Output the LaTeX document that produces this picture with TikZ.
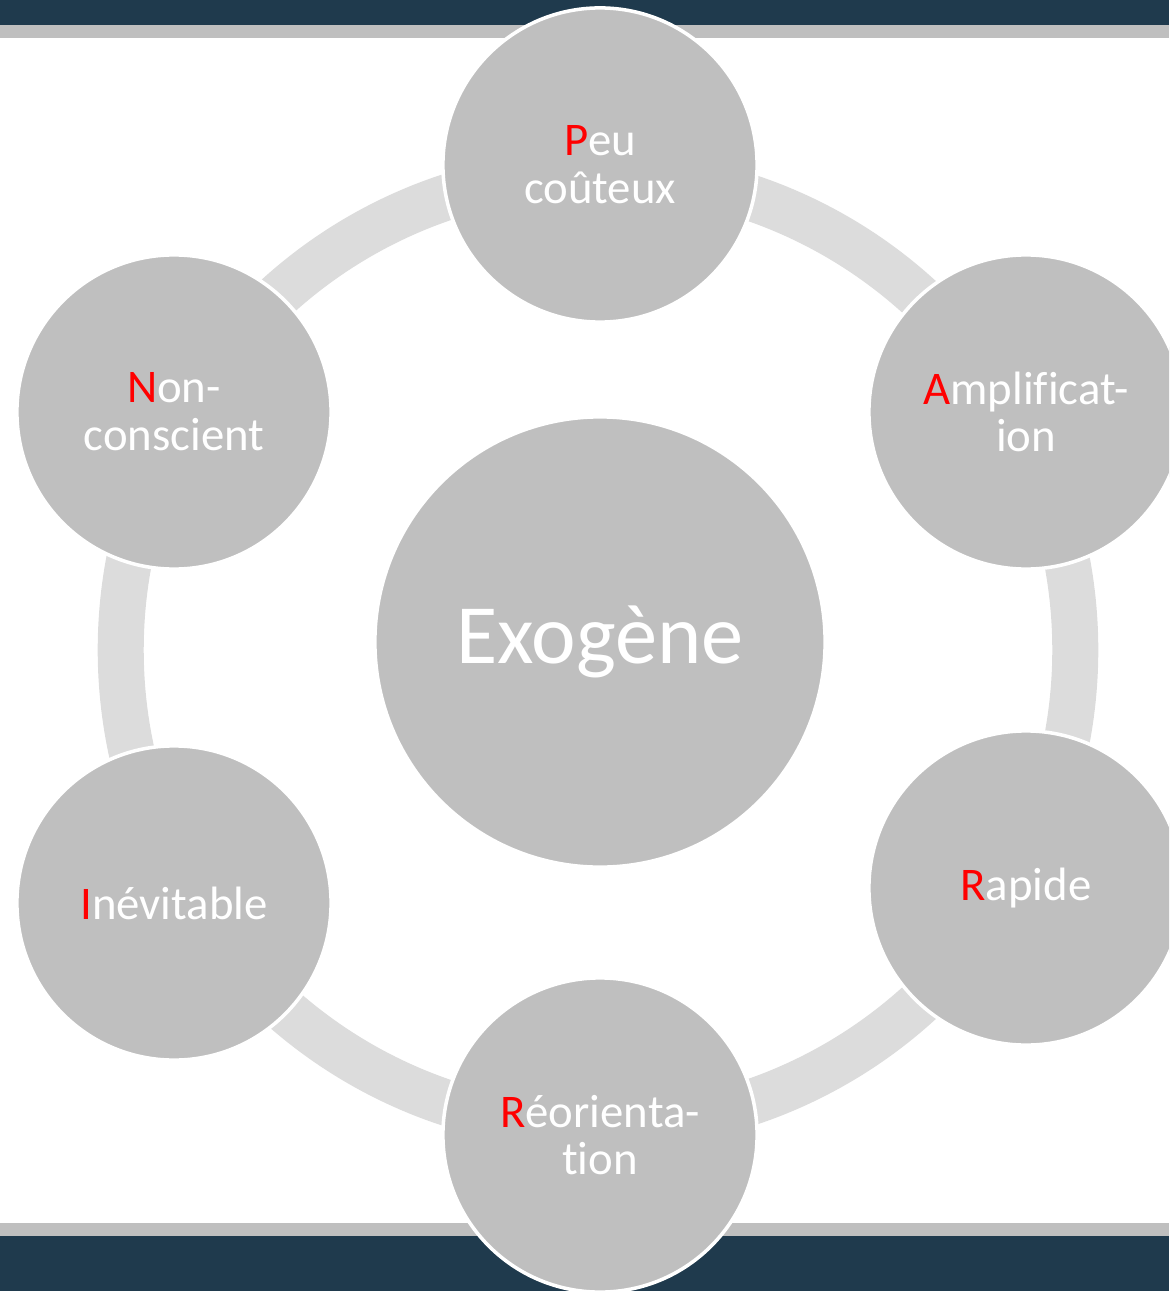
\documentclass[tikz,border=0pt]{standalone}
\usepackage{fontspec}
\setmainfont{Carlito}[Ligatures=NoCommon]
\definecolor{barblue}{HTML}{1F3A4D}
\definecolor{bargray}{HTML}{BFBFBF}
\definecolor{ringgray}{HTML}{DCDCDC}
\definecolor{discgray}{HTML}{BFBFBF}
\definecolor{initred}{HTML}{FF0000}
\newcommand{\ini}[1]{\textcolor{initred}{#1}}

\begin{document}
\begin{tikzpicture}[x=0.01cm, y=-0.01cm, every node/.style={font=\fontsize{13.3}{13.6}\selectfont, text=white}, disc/.style={circle, draw=white, line width=1pt, fill=discgray, minimum size=3.14cm, inner sep=0pt, align=center}]
	\useasboundingbox (0,0) rectangle (1169,1291);
	\clip (0,0) rectangle (1169,1291);
	% bandeaux haut et bas
	\fill[barblue] (0,0) rectangle (1169,25);
	\fill[bargray] (0,25) rectangle (1169,38);
	\fill[bargray] (0,1223) rectangle (1169,1236);
	\fill[barblue] (0,1236) rectangle (1169,1291);
	% anneau
	\draw[ringgray, line width=0.46cm] (598,650) circle[radius=4.77cm];
	\node[disc, minimum size=4.5cm, font=\fontsize{24}{28}\selectfont] (exo) at (600,642) {Exogène};
	\node[disc] (peu) at (600,165) {\ini{P}eu\\coûteux};
	\node[disc] (amp) at (1026,412) {\ini{A}mplificat-\\ion};
	\node[disc] (rap) at (1026,888) {\ini{R}apide};
	\node[disc] (reo) at (600,1135) {\ini{R}éorienta-\\tion};
	\node[disc] (inev) at (174,903) {\ini{I}névitable};
	\node[disc] (non) at (174,412) {\ini{N}on-\\conscient};
\end{tikzpicture}
\end{document}
